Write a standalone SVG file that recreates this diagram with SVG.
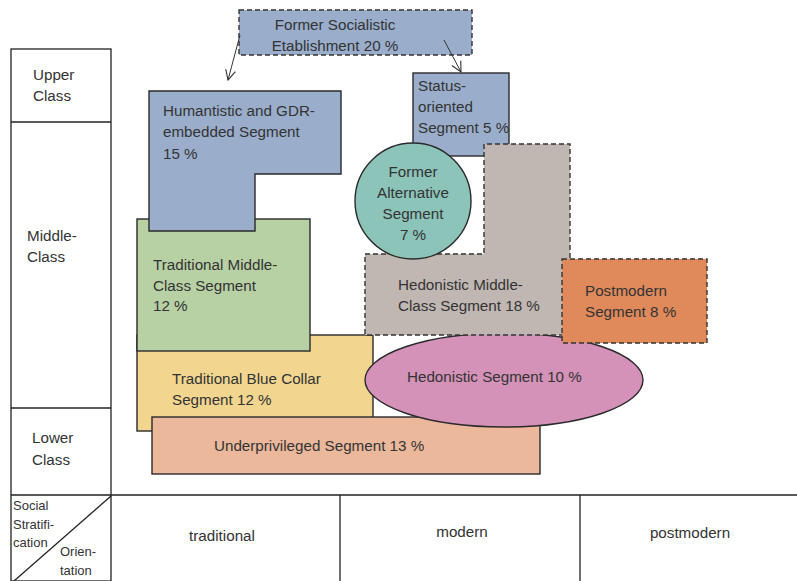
<svg xmlns="http://www.w3.org/2000/svg" width="797" height="581" viewBox="0 0 797 581">
  <defs>
    <marker id="open-arrow" viewBox="0 0 12 12" refX="11" refY="6" markerWidth="12" markerHeight="12" markerUnits="userSpaceOnUse" orient="auto">
      <path d="M1,1 L11,6 L1,11" fill="none" stroke="#333" stroke-width="1.1"/>
    </marker>
  </defs>
  <style>
    text { font-family: "Liberation Sans", Arial, sans-serif; font-size: 15.2px; fill: #333; }
    .small { font-size: 13px; }
    .mid { text-anchor: middle; }
    .grid { fill: none; stroke: #222; stroke-width: 1.3; }
    .seg { stroke: #2a2a2a; stroke-width: 1.4; }
    .dash { stroke: #333; stroke-width: 1.4; stroke-dasharray: 5 3; }
    .conn { fill: none; stroke: #333; stroke-width: 1; marker-end: url(#open-arrow); }
  </style>
  <rect width="797" height="581" fill="#fff"/>

  <!-- Stratification / orientation frame -->
  <g id="frame">
    <rect class="grid" x="11" y="49" width="100" height="532"/>
    <line class="grid" x1="11" y1="122" x2="111" y2="122"/>
    <line class="grid" x1="11" y1="408" x2="111" y2="408"/>
    <line class="grid" x1="11" y1="495" x2="797" y2="495"/>
    <line class="grid" x1="340" y1="495" x2="340" y2="581"/>
    <line class="grid" x1="580" y1="495" x2="580" y2="581"/>
    <line class="grid" x1="111" y1="496" x2="14" y2="581"/>
    <text x="33" y="80">Upper</text>
    <text x="33" y="101">Class</text>
    <text x="27" y="241">Middle-</text>
    <text x="27" y="262">Class</text>
    <text x="32" y="443">Lower</text>
    <text x="32" y="465">Class</text>
    <text class="small" x="13" y="510">Social</text>
    <text class="small" x="13" y="529">Stratifi-</text>
    <text class="small" x="13" y="547">cation</text>
    <text class="small" x="60" y="556">Orien-</text>
    <text class="small" x="60" y="575">tation</text>
    <text class="mid" x="222" y="541">traditional</text>
    <text class="mid" x="462" y="537">modern</text>
    <text class="mid" x="690" y="538">postmodern</text>
  </g>

  <g id="status-oriented">
    <rect class="seg" x="413" y="73" width="96" height="83" fill="#9aaecb"/>
    <text x="418" y="91">Status-</text>
    <text x="418" y="112">oriented</text>
    <text x="418" y="133">Segment 5 %</text>
  </g>

  <g id="blue-collar">
    <rect class="seg" x="137" y="335" width="236" height="96" fill="#f2d68f"/>
    <text x="172" y="384">Traditional Blue Collar</text>
    <text x="172" y="405">Segment 12 %</text>
  </g>

  <g id="traditional-middle">
    <rect class="seg" x="137" y="219" width="173" height="132" fill="#b8d1a4"/>
    <text x="153" y="270">Traditional Middle-</text>
    <text x="153" y="291">Class Segment</text>
    <text x="153" y="311">12 %</text>
  </g>

  <g id="humanistic">
    <path class="seg" d="M149,91 H341 V174 H255 V231 H149 Z" fill="#9aaecb"/>
    <text x="163" y="116">Humantistic and GDR-</text>
    <text x="163" y="137">embedded Segment</text>
    <text x="163" y="159">15 %</text>
  </g>

  <g id="underprivileged">
    <rect class="seg" x="152" y="417" width="388" height="57" fill="#ecb89c"/>
    <text x="214" y="451">Underprivileged Segment 13 %</text>
  </g>

  <g id="hedonistic">
    <ellipse class="seg" cx="504" cy="380" rx="139" ry="47" fill="#d492b8"/>
    <text x="407" y="382">Hedonistic Segment 10 %</text>
  </g>

  <g id="hedonistic-middle">
    <path class="dash" d="M365,254 H484 V144 H570 V335 H365 Z" fill="#c0b7b3"/>
    <text x="398" y="290">Hedonistic Middle-</text>
    <text x="398" y="311">Class Segment 18 %</text>
  </g>

  <g id="former-alternative">
    <circle class="seg" cx="413" cy="201" r="58" fill="#8cc4b9"/>
    <text class="mid" x="413" y="177">Former</text>
    <text class="mid" x="413" y="198">Alternative</text>
    <text class="mid" x="413" y="219">Segment</text>
    <text class="mid" x="413" y="240">7 %</text>
  </g>

  <g id="postmodern">
    <rect class="dash" x="562" y="259" width="145" height="84" fill="#e08a5c"/>
    <text x="585" y="296">Postmodern</text>
    <text x="585" y="317">Segment 8 %</text>
  </g>

  <g id="former-socialistic">
    <rect class="dash" x="239" y="10" width="233" height="45" fill="#9aaecb"/>
    <text class="mid" x="335" y="30">Former Socialistic</text>
    <text class="mid" x="335" y="51">Etablishment 20 %</text>
  </g>

  <g id="connectors">
    <path class="conn" d="M240,35 L228,80"/>
    <path class="conn" d="M444,40 L461,72"/>
  </g>
</svg>
